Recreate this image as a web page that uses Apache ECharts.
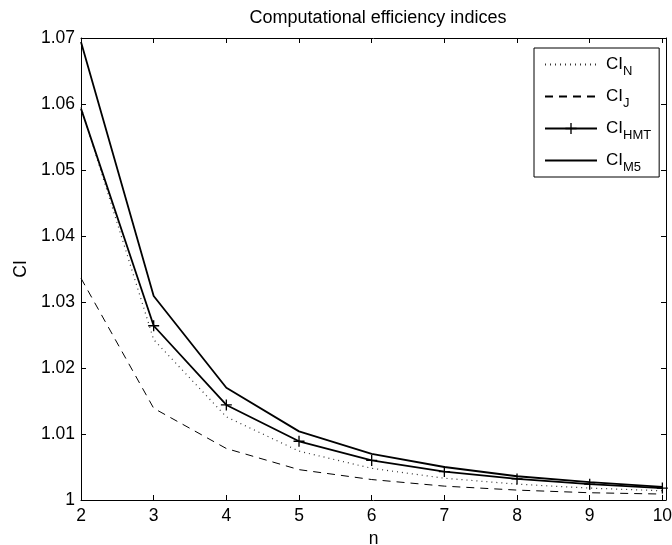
<!DOCTYPE html>
<html>
<head>
<meta charset="utf-8">
<script src="https://cdn.jsdelivr.net/npm/echarts@6/dist/echarts.min.js"></script>
<style>
html,body{margin:0;padding:0;background:#fff;}
#chart{width:672px;height:545px;}
</style>
</head>
<body>
<div id="chart"></div>
<script>
const nValues = [2, 3, 4, 5, 6, 7, 8, 9, 10];
const ciN   = [1.0595, 1.0243, 1.0126, 1.0074, 1.0048, 1.0033, 1.0024, 1.0018, 1.0014];
const ciJ   = [1.0336, 1.0139, 1.0078, 1.0046, 1.0031, 1.0021, 1.0015, 1.0011, 1.0009];
const ciHMT = [1.0593, 1.0264, 1.0144, 1.0089, 1.0060, 1.0043, 1.0032, 1.0024, 1.0018];
const ciM5  = [1.0694, 1.0309, 1.0170, 1.0104, 1.0070, 1.0050, 1.0036, 1.0027, 1.0020];
const yTicks = [1, 1.01, 1.02, 1.03, 1.04, 1.05, 1.06, 1.07];
const seriesNames = ['N', 'J', 'HMT', 'M5'];

const font = 'Liberation Sans, Arial, Helvetica, sans-serif';
const pair = arr => nValues.map((n, i) => [n, arr[i]]);
const plus = 'path://M4.4,0h1.2v10h-1.2z M0,4.4h10v1.2h-10z';
const fs = 17.5;

const chart = echarts.init(document.getElementById('chart'), null, {renderer: 'canvas'});
const commonX = {
  type: 'value', min: 2, max: 10.05,
  axisLine: {show: true, lineStyle: {color: '#000', width: 1}},
  axisTick: {show: true, inside: true, length: 5, lineStyle: {color: '#000'}, customValues: nValues},
  splitLine: {show: false}
};
const commonY = {
  type: 'value', min: 1, max: 1.07, interval: 0.01,
  axisLine: {show: true, lineStyle: {color: '#000', width: 1}},
  axisTick: {show: true, inside: true, length: 5, lineStyle: {color: '#000'}, customValues: yTicks},
  splitLine: {show: false}
};
const hmtData = pair(ciHMT).map((p, i) => i === 0 ? {value: p, symbol: 'none'} : p);
chart.setOption({
  animation: false,
  backgroundColor: '#fff',
  title: {
    text: 'Computational efficiency indices',
    left: 373, top: 4, textAlign: 'center',
    textStyle: {fontFamily: font, fontSize: 18, fontWeight: 'normal', color: '#000'}
  },
  grid: {left: 81, right: 6, top: 38, bottom: 45, containLabel: false, outerBoundsMode: 'none'},
  legend: {
    data: seriesNames.map(n => n === 'HMT' ? {name: n} : {name: n, itemStyle: {opacity: 0}}),
    orient: 'vertical',
    left: 534, top: 48,
    padding: [3, 8, 3, 10],
    itemGap: 5,
    itemWidth: 52, itemHeight: 14,
    borderColor: '#000', borderWidth: 1, borderRadius: 0,
    backgroundColor: '#fff',
    formatter: name => '{m|CI}{s|' + name + '}',
    textStyle: {
      fontFamily: font, color: '#000',
      rich: {
        m: {fontFamily: font, fontSize: 17, color: '#000', padding: [0, 0, 0, 4], lineHeight: 20},
        s: {fontFamily: font, fontSize: 13, color: '#000', padding: [14, 0, 0, 0], lineHeight: 12}
      }
    }
  },
  xAxis: [
    Object.assign({}, commonX, {
      position: 'bottom',
      name: 'n', nameLocation: 'middle', nameGap: 26,
      nameTextStyle: {fontFamily: font, fontSize: fs, color: '#000'},
      axisLabel: {show: true, color: '#000', fontFamily: font, fontSize: fs, margin: 7, customValues: nValues}
    }),
    Object.assign({}, commonX, {position: 'top', axisLabel: {show: false}})
  ],
  yAxis: [
    Object.assign({}, commonY, {
      position: 'left',
      name: 'CI', nameLocation: 'middle', nameGap: 50, nameRotate: 90,
      nameTextStyle: {fontFamily: font, fontSize: fs, color: '#000'},
      axisLabel: {show: true, color: '#000', fontFamily: font, fontSize: fs, margin: 6}
    }),
    Object.assign({}, commonY, {position: 'right', axisLabel: {show: false}})
  ],
  series: [
    {name: 'N', type: 'line', data: pair(ciN), showSymbol: false, symbol: 'none',
     lineStyle: {color: '#333', width: 1.2, type: [1, 4]}, itemStyle: {color: '#333'}},
    {name: 'J', type: 'line', data: pair(ciJ), showSymbol: false, symbol: 'none',
     lineStyle: {color: '#000', width: 1, type: [8, 6]}, itemStyle: {color: '#000'}},
    {name: 'HMT', type: 'line', data: hmtData, symbol: plus, symbolSize: 11,
     lineStyle: {color: '#000', width: 1.8}, itemStyle: {color: '#000'}},
    {name: 'M5', type: 'line', data: pair(ciM5), showSymbol: false, symbol: 'none',
     lineStyle: {color: '#000', width: 1.8}, itemStyle: {color: '#000'}}
  ]
});
</script>
</body>
</html>
